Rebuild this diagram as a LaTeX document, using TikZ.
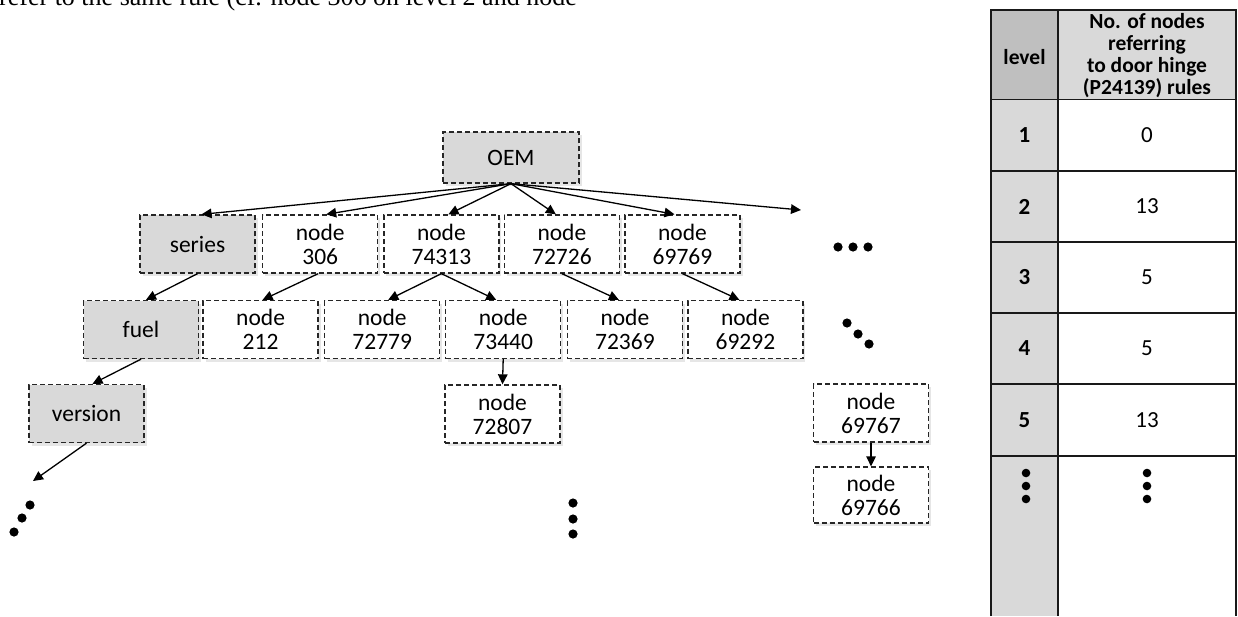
\documentclass[tikz,border=0pt]{standalone}
\usepackage{fontspec}
\setmainfont{Carlito}
\newfontfamily\bodyserif{Liberation Serif}
\usetikzlibrary{arrows.meta,shadows}
\definecolor{boxgray}{HTML}{D9D9D9}
\definecolor{headgray}{HTML}{BFBFBF}
\tikzset{
  treebox/.style={draw=black!85, dash pattern=on 5pt off 3pt, line width=1.3pt,
    fill=white, minimum width=115pt, minimum height=58pt, inner sep=0pt,
    align=center, font=\fontsize{23.5}{24}\selectfont,
    drop shadow={opacity=0.2, shadow xshift=2.5pt, shadow yshift=-3pt}},
  graybox/.style={treebox, fill=boxgray},
  link/.style={line width=1.3pt, -{Triangle[length=10pt,width=9.5pt]}},
  dot/.style={fill=black},
  celltext/.style={font=\fontsize{23}{24}\selectfont, inner sep=0pt},
  levtext/.style={font=\fontsize{23}{24}\selectfont\bfseries, inner sep=0pt},
  headtext/.style={font=\fontsize{21.5}{22}\selectfont\bfseries, align=center, inner sep=0pt},
  rule/.style={line width=1.4pt, black!90}
}
\begin{document}
\begin{tikzpicture}[x=1pt,y=-1pt]
\useasboundingbox (0,0) rectangle (1238,616);
\clip (0,0) rectangle (1238,616);

% running text of the page above the figure
\node[anchor=base west, inner sep=0pt, font=\bodyserif\fontsize{26}{30}\selectfont]
  (pagetext) at (-1,5.5) {refer to the same rule (cf. node 306 on level 2 and node};

% level 1
\node[graybox, minimum width=136pt, minimum height=51pt] (oem) at (511,157.5) {OEM};

% level 2
\node[graybox] (series) at (197.5,244) {series};
\node[treebox] (n306)   at (320.2,244) {node\\306};
\node[treebox] (n74313) at (441.4,244) {node\\74313};
\node[treebox] (n72726) at (561.9,244) {node\\72726};
\node[treebox] (n69769) at (682.5,244) {node\\69769};
\coordinate (more2) at (801,210);

% level 3
\node[graybox] (fuel)   at (141,329.5) {fuel};
\node[treebox] (n212)   at (260.6,329.5) {node\\212};
\node[treebox] (n72779) at (382.2,329.5) {node\\72779};
\node[treebox] (n73440) at (503.2,329.5) {node\\73440};
\node[treebox] (n72369) at (624.9,329.5) {node\\72369};
\node[treebox] (n69292) at (745.4,329.5) {node\\69292};

% level 4 and below
\node[graybox] (version) at (86.5,413.5) {version};
\node[treebox] (n72807)  at (502.5,414) {node\\72807};
\node[treebox] (n69767)  at (871,413) {node\\69767};
\node[treebox, minimum height=56pt] (n69766) at (871,495) {node\\69766};
\coordinate (more5) at (33,481);

% connectors
\draw[link] (oem.south) -- ([xshift=4pt]series.north);
\draw[link] (oem.south) -- ([xshift=6pt]n306.north);
\draw[link] (oem.south) -- ([xshift=7pt]n74313.north);
\draw[link] (oem.south) -- ([xshift=-6pt]n72726.north);
\draw[link] (oem.south) -- ([xshift=-8pt]n69769.north);
\draw[link] (oem.south) -- (more2);

\draw[link] (series.south) -- ([xshift=5pt]fuel.north);
\draw[link] ([xshift=-2pt]n306.south) -- ([xshift=2pt]n212.north);
\draw[link] (n74313.south) -- ([xshift=6pt]n72779.north);
\draw[link] (n74313.south) -- ([xshift=-7pt]n73440.north);
\draw[link] (n72726.south) -- ([xshift=-6pt]n72369.north);
\draw[link] (n69769.south) -- ([xshift=-6pt]n69292.north);

\draw[link] (fuel.south) -- ([xshift=6pt]version.north);
\draw[link] (version.south) -- (more5);
\draw[link] (n73440.south) -- (n72807.north);
\draw[link] (n69767.south) -- (n69766.north);

% continuation dots
\foreach \p in {(838,247),(853,247),(868,247)} \fill[dot] \p circle (4.6);
\foreach \p in {(847,323),(858,334),(869,344)} \fill[dot] \p circle (4.6);
\foreach \p in {(30,505),(22,518),(14,532)} \fill[dot] \p circle (4.6);
\foreach \p in {(573,503),(573,519),(573,534)} \fill[dot] \p circle (4.6);

% table: cell fills
\fill[headgray] (991,10) rectangle (1058,99.5);
\fill[boxgray] (1058,10) rectangle (1236,99.5);
\fill[boxgray] (991,99.5) rectangle (1058,616);

% table: rules
\draw[rule] (991,616) -- (991,10) -- (1236,10) -- (1236,616);
\draw[rule] (1058,10) -- (1058,616);
\foreach \y in {99.5,171,242,313,384,456}
  \draw[rule] (991,\y) -- (1236,\y);

% table: texts
\node[headtext] (hlevel) at (1024.5,57) {level};
\node[headtext] (hcount) at (1147,56) {No. of nodes\\referring\\to door hinge\\(P24139) rules};
\node[levtext] (l1) at (1024.5,135.5) {1};
\node[celltext] (c1) at (1147,135.5) {0};
\node[levtext] (l2) at (1024.5,206.5) {2};
\node[celltext] (c2) at (1147,206.5) {13};
\node[levtext] (l3) at (1024.5,277.5) {3};
\node[celltext] (c3) at (1147,277.5) {5};
\node[levtext] (l4) at (1024.5,348.5) {4};
\node[celltext] (c4) at (1147,348.5) {5};
\node[levtext] (l5) at (1024.5,420) {5};
\node[celltext] (c5) at (1147,420) {13};
\foreach \y in {473,486,499} {
  \fill[dot] (1026,\y) circle (4.3);
  \fill[dot] (1147,\y) circle (4.3);
}
\end{tikzpicture}
\end{document}
